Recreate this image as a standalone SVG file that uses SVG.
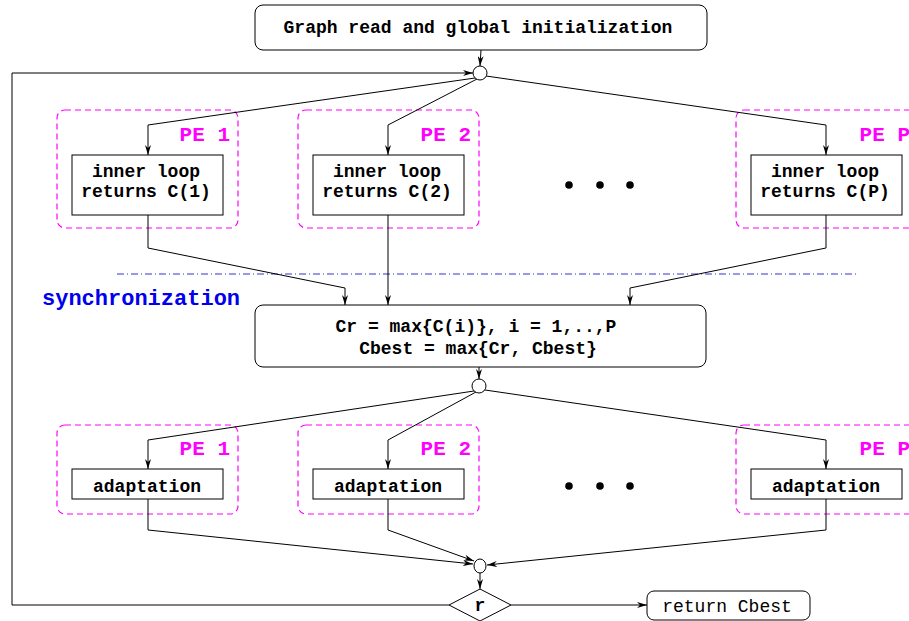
<svg xmlns="http://www.w3.org/2000/svg" width="909" height="621" viewBox="0 0 909 621">
<style>
  .box{fill:#fff;stroke:#000;stroke-width:1}
  .pe{fill:none;stroke:#ff00ff;stroke-width:1.2;stroke-dasharray:6 4}
  .t{font-family:"Liberation Mono",monospace;font-weight:bold;font-size:18px;fill:#000;text-anchor:middle}
  .pel{font-family:"Liberation Mono",monospace;font-weight:bold;font-size:21px;fill:#ff00ff;text-anchor:end}
  .c{fill:none;stroke:#000;stroke-width:1}
  .a{fill:none;stroke:#000;stroke-width:1;marker-end:url(#ah)}
  .j{fill:#fff;stroke:#000;stroke-width:1}
</style>
<defs>
  <marker id="ah" viewBox="0 0 10 6" refX="10" refY="3" markerWidth="10" markerHeight="6" markerUnits="userSpaceOnUse" orient="auto">
    <path d="M0,0 L10,3 L0,6 L3,3 Z" fill="#000"/>
  </marker>
</defs>
<rect width="909" height="621" fill="#fff"/>

<!-- processing element frames -->
<g id="pe-frames">
  <rect class="pe" x="57" y="110" width="181" height="118" rx="8"/>
  <rect class="pe" x="298" y="110" width="181" height="118" rx="8"/>
  <rect class="pe" x="736" y="110" width="190" height="118" rx="8"/>
  <rect class="pe" x="57" y="425" width="181" height="89" rx="8"/>
  <rect class="pe" x="298" y="425" width="181" height="89" rx="8"/>
  <rect class="pe" x="736" y="425" width="190" height="89" rx="8"/>
  <text class="pel" x="230" y="141">PE 1</text>
  <text class="pel" x="471" y="141">PE 2</text>
  <text class="pel" x="910" y="141">PE P</text>
  <text class="pel" x="230" y="455">PE 1</text>
  <text class="pel" x="471" y="455">PE 2</text>
  <text class="pel" x="910" y="455">PE P</text>
</g>

<!-- synchronization barrier -->
<g id="sync-line">
  <line x1="117" y1="274" x2="858" y2="274" stroke="#3333cc" stroke-width="1" stroke-dasharray="7 3 1 3"/>
  <text x="42" y="305" font-family="Liberation Mono,monospace" font-weight="bold" font-size="22" fill="#0000ee">synchronization</text>
</g>

<!-- connectors -->
<g id="connectors">
  <line class="a" x1="481" y1="50" x2="480" y2="66"/>
  <polyline class="a" points="449,605 12,605 12,73 473,73"/>
  <polyline class="a" points="475,78 148,125 148,155"/>
  <polyline class="a" points="477,79 388,125 388,155"/>
  <polyline class="a" points="486,76 826,125 826,155"/>
  <polyline class="a" points="148,215 148,248 345,288 345,305"/>
  <line class="a" x1="388" y1="215" x2="388" y2="305"/>
  <polyline class="a" points="826,215 826,248 630,288 630,305"/>
  <line class="a" x1="479" y1="367" x2="479" y2="379"/>
  <polyline class="a" points="474,391 148,440 148,469"/>
  <polyline class="a" points="476,392 388,440 388,469"/>
  <polyline class="a" points="485,390 826,440 826,469"/>
  <polyline class="a" points="148,499 148,530 473,564"/>
  <polyline class="a" points="388,499 388,530 474,561"/>
  <polyline class="a" points="826,499 826,530 487,565"/>
  <line class="a" x1="480" y1="573" x2="480" y2="589"/>
  <line class="a" x1="511" y1="605" x2="647" y2="605"/>
</g>

<g id="init">
  <rect class="box" x="255" y="5" width="452" height="45" rx="8"/>
  <text class="t" x="478" y="33">Graph read and global initialization</text>
</g>
<g id="fork1"><circle class="j" cx="480" cy="73" r="7"/></g>

<g id="inner1">
  <rect class="box" x="72" y="155" width="151" height="60"/>
  <text class="t" x="146" y="177">inner loop</text>
  <text class="t" x="146" y="197">returns C(1)</text>
</g>
<g id="inner2">
  <rect class="box" x="313" y="155" width="151" height="60"/>
  <text class="t" x="387" y="177">inner loop</text>
  <text class="t" x="387" y="197">returns C(2)</text>
</g>
<g id="innerP">
  <rect class="box" x="751" y="155" width="151" height="60"/>
  <text class="t" x="825" y="177">inner loop</text>
  <text class="t" x="825" y="197">returns C(P)</text>
</g>
<g id="dots1">
  <circle cx="569" cy="185" r="3.8"/><circle cx="600" cy="185" r="3.8"/><circle cx="630" cy="185" r="3.8"/>
</g>

<g id="reduce">
  <rect class="box" x="255" y="305" width="451" height="62" rx="8"/>
  <text class="t" x="476" y="332">Cr = max{C(i)}, i = 1,..,P</text>
  <text class="t" x="478" y="354">Cbest = max{Cr, Cbest}</text>
</g>
<g id="fork2"><circle class="j" cx="479" cy="386" r="7"/></g>

<g id="adapt1">
  <rect class="box" x="72" y="469" width="151" height="30"/>
  <text class="t" x="147" y="492">adaptation</text>
</g>
<g id="adapt2">
  <rect class="box" x="313" y="469" width="151" height="30"/>
  <text class="t" x="388" y="492">adaptation</text>
</g>
<g id="adaptP">
  <rect class="box" x="751" y="469" width="151" height="30"/>
  <text class="t" x="826" y="492">adaptation</text>
</g>
<g id="dots2">
  <circle cx="569" cy="486" r="3.8"/><circle cx="600" cy="486" r="3.8"/><circle cx="630" cy="486" r="3.8"/>
</g>

<g id="join"><ellipse class="j" cx="480" cy="566" rx="6" ry="7"/></g>
<g id="decision">
  <polygon class="j" points="480,589 511,605 480,621 449,605"/>
  <text class="t" x="480" y="611">r</text>
</g>
<g id="return">
  <rect class="box" x="647" y="591" width="163" height="29" rx="7"/>
  <text x="727" y="612" font-family="Liberation Mono,monospace" font-size="18" text-anchor="middle">return Cbest</text>
</g>
</svg>
